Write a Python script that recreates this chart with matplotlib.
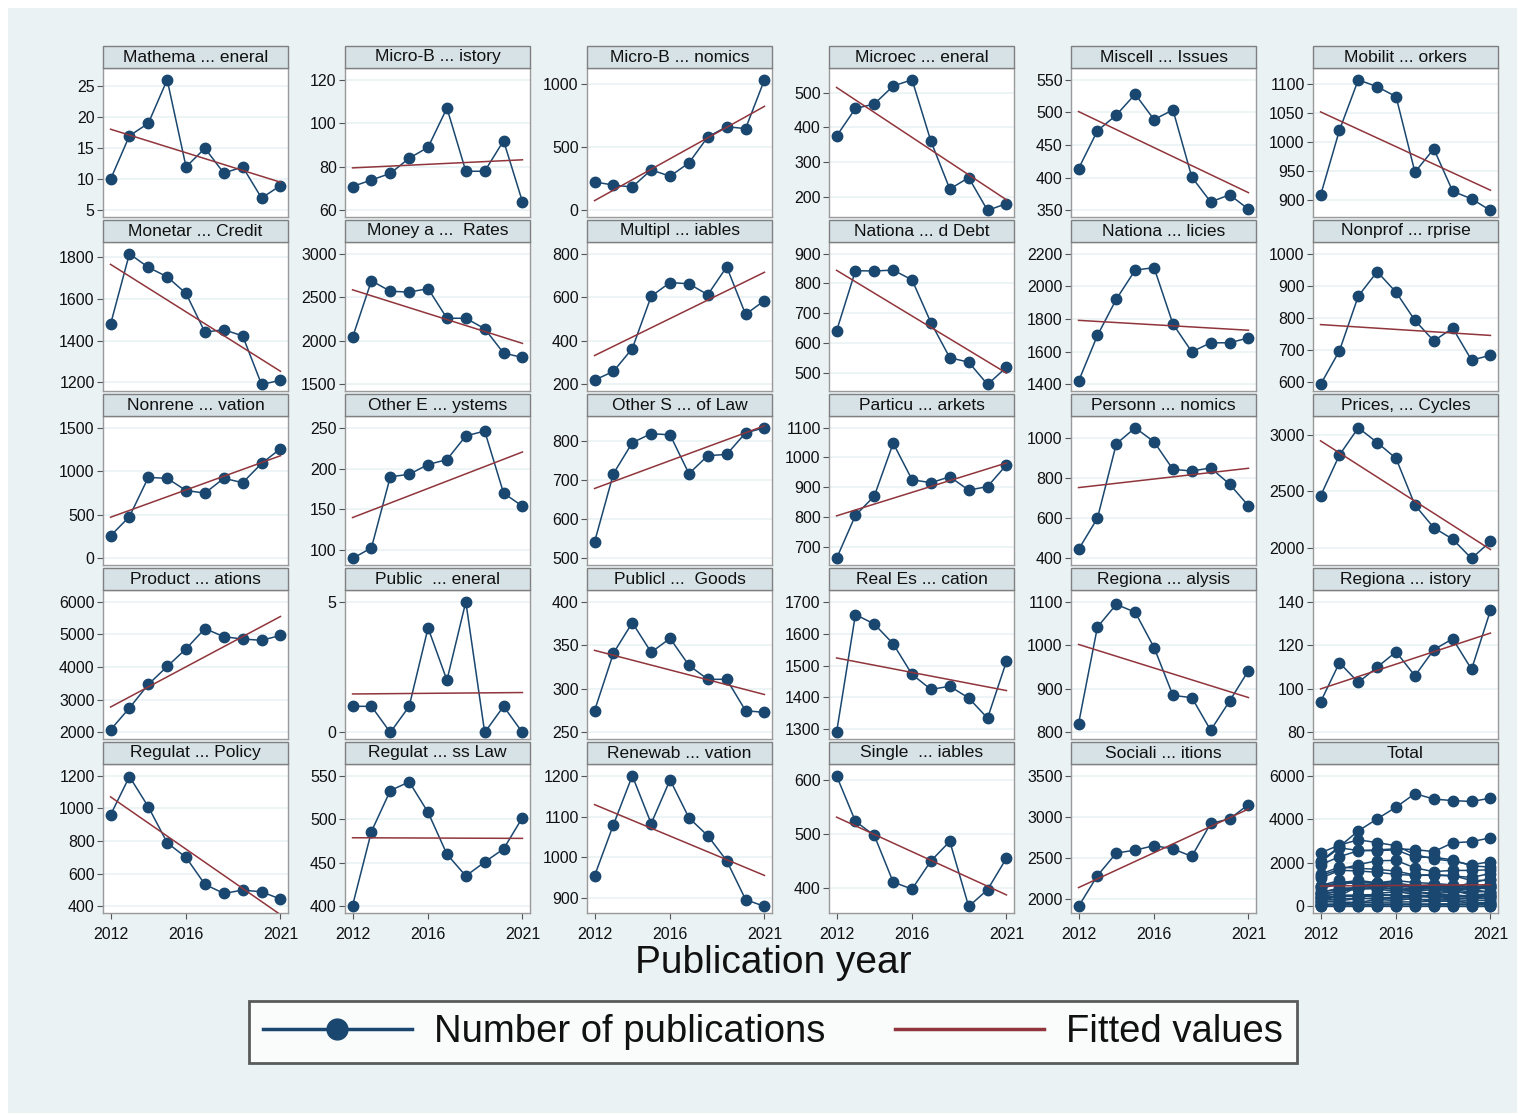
"""
Small multiples: publications per year by JEL-type category, with linear fits
"""
import numpy as np
import matplotlib.pyplot as plt
from matplotlib.patches import Rectangle
from matplotlib.lines import Line2D

plt.rcParams['font.family'] = ['Liberation Sans', 'DejaVu Sans']

years = list(range(2012, 2022))

titles = [
    "Mathema ... eneral", "Micro-B ... istory", "Micro-B ... nomics",
    "Microec ... eneral", "Miscell ... Issues", "Mobilit ... orkers",
    "Monetar ... Credit", "Money a ...  Rates", "Multipl ... iables",
    "Nationa ... d Debt", "Nationa ... licies", "Nonprof ... rprise",
    "Nonrene ... vation", "Other E ... ystems", "Other S ... of Law",
    "Particu ... arkets", "Personn ... nomics", "Prices, ... Cycles",
    "Product ... ations", "Public  ... eneral", "Publicl ...  Goods",
    "Real Es ... cation", "Regiona ... alysis", "Regiona ... istory",
    "Regulat ... Policy", "Regulat ... ss Law", "Renewab ... vation",
    "Single  ... iables", "Sociali ... itions",
]

counts = [
    [10, 17, 19, 26, 12, 15, 11, 12, 7, 9],
    [71, 74, 77, 84, 89, 107, 78, 78, 92, 64],
    [225, 200, 185, 320, 270, 375, 580, 660, 645, 1030],
    [375, 455, 468, 520, 538, 360, 222, 255, 160, 180],
    [414, 472, 496, 528, 489, 504, 401, 363, 374, 352],
    [908, 1020, 1107, 1095, 1078, 948, 988, 915, 902, 882],
    [1478, 1815, 1750, 1705, 1625, 1440, 1452, 1422, 1190, 1210],
    [2040, 2690, 2570, 2560, 2600, 2260, 2260, 2140, 1860, 1810],
    [220, 260, 365, 605, 668, 662, 612, 740, 522, 585],
    [640, 843, 842, 845, 812, 668, 550, 535, 460, 518],
    [1420, 1700, 1922, 2100, 2115, 1770, 1600, 1655, 1655, 1685],
    [592, 697, 868, 944, 880, 792, 728, 768, 668, 683],
    [260, 480, 930, 920, 780, 750, 920, 870, 1090, 1260],
    [90, 103, 190, 193, 205, 211, 240, 246, 170, 154],
    [542, 716, 795, 818, 815, 716, 762, 765, 820, 833],
    [660, 805, 870, 1048, 925, 915, 935, 890, 902, 975],
    [445, 600, 970, 1050, 980, 843, 835, 850, 770, 662],
    [2460, 2820, 3060, 2930, 2790, 2380, 2180, 2080, 1910, 2060],
    [2080, 2750, 3470, 4020, 4560, 5180, 4930, 4860, 4820, 4970],
    [1, 1, 0, 1, 4, 2, 5, 0, 1, 0],
    [275, 341, 376, 342, 358, 327, 311, 311, 275, 273],
    [1290, 1660, 1630, 1568, 1472, 1425, 1435, 1398, 1335, 1513],
    [820, 1042, 1094, 1076, 995, 885, 880, 805, 872, 942],
    [94, 112, 103, 110, 117, 106, 118, 123, 109, 136],
    [960, 1195, 1010, 790, 700, 535, 480, 500, 490, 445],
    [401, 486, 533, 543, 508, 460, 435, 451, 466, 502],
    [955, 1080, 1200, 1083, 1190, 1097, 1053, 992, 897, 880],
    [607, 523, 497, 411, 398, 450, 486, 366, 397, 455],
    [1910, 2285, 2560, 2595, 2650, 2610, 2520, 2920, 2975, 3150],
]

yticks = [
    [5, 10, 15, 20, 25], [60, 80, 100, 120], [0, 500, 1000],
    [200, 300, 400, 500], [350, 400, 450, 500, 550], [900, 950, 1000, 1050, 1100],
    [1200, 1400, 1600, 1800], [1500, 2000, 2500, 3000], [200, 400, 600, 800],
    [500, 600, 700, 800, 900], [1400, 1600, 1800, 2000, 2200], [600, 700, 800, 900, 1000],
    [0, 500, 1000, 1500], [100, 150, 200, 250], [500, 600, 700, 800],
    [700, 800, 900, 1000, 1100], [400, 600, 800, 1000], [2000, 2500, 3000],
    [2000, 3000, 4000, 5000, 6000], [0, 5], [250, 300, 350, 400],
    [1300, 1400, 1500, 1600, 1700], [800, 900, 1000, 1100], [80, 100, 120, 140],
    [400, 600, 800, 1000, 1200], [400, 450, 500, 550], [900, 1000, 1100, 1200],
    [400, 500, 600], [2000, 2500, 3000, 3500],
]
total_ticks = [0, 2000, 4000, 6000]
xticks = [2012, 2016, 2021]

navy = '#1a476f'
maroon = '#90353b'
bg = '#eaf2f3'

W, H = 1519, 1115
fig = plt.figure(figsize=(W / 100, H / 100), dpi=100)
fig.patch.set_facecolor('white')
fig.patches.append(Rectangle((8 / W, 2 / H), 1509 / W, 1105 / H, transform=fig.transFigure,
                             facecolor=bg, edgecolor='none', zorder=-10))

panel_w, panel_h, strip_h = 185, 149, 22


def fit_line(x, y):
    b, a = np.polyfit(x, y, 1)
    return a + b * np.array(years, dtype=float)


for i in range(30):
    r, c = divmod(i, 6)
    left = 103 + 242 * c
    top = 68 + 174 * r
    ax = fig.add_axes([left / W, 1 - (top + panel_h) / H, panel_w / W, panel_h / H])
    ax.set_facecolor('white')

    if i < 29:
        y = counts[i]
        ax.plot(years, y, color=navy, lw=1.1, marker='o', ms=7.5, zorder=3)
        ax.plot(years, fit_line(years, y), color=maroon, lw=1.1, zorder=4)
        ticks = yticks[i]
        title = titles[i]
        vals = y
    else:
        for y in counts:
            ax.plot(years, y, color=navy, lw=1.1, marker='o', ms=7.5, zorder=3)
        xs = np.tile(years, len(counts))
        ys = np.concatenate(counts)
        ax.plot(years, fit_line(xs, ys), color=maroon, lw=1.1, zorder=4)
        ticks = total_ticks
        title = "Total"
        vals = ys

    lo = min(min(vals), ticks[0])
    hi = max(max(vals), ticks[-1])
    span = hi - lo
    ax.set_ylim(lo - 0.05 * span, hi + 0.09 * span)
    ax.set_xlim(2011.6, 2021.4)
    ax.set_yticks(ticks)
    ax.set_yticklabels([str(t) for t in ticks], fontsize=11.5, color='#111111')
    for t in ticks:
        ax.axhline(t, color=bg, lw=1.2, zorder=1)
    ax.tick_params(axis='y', length=4, width=0.8, color='#555555', pad=2)

    if r == 4:
        ax.set_xticks(xticks)
        ax.set_xticklabels([str(t) for t in xticks], fontsize=11.5, color='#111111')
        ax.tick_params(axis='x', length=4, width=0.8, color='#555555', pad=6)
    else:
        ax.set_xticks([])

    for s in ax.spines.values():
        s.set_color('#9a9a9a')
        s.set_linewidth(1.0)

    # strip with panel title
    sh = strip_h / panel_h
    ax.add_patch(Rectangle((0, 1), 1, sh, transform=ax.transAxes, clip_on=False,
                           facecolor='#d6e2e6', edgecolor='#808080', lw=1.0, zorder=5))
    ax.text(0.5, 1 + sh / 2, title, transform=ax.transAxes, ha='center', va='center',
            fontsize=12.5, color='#111111', zorder=6)

fig.text(773 / W, 1 - 963 / H, "Publication year", ha='center', va='center', fontsize=28,
         color='#111111')

handles = [
    Line2D([], [], color=navy, lw=2.5, marker='o', ms=15),
    Line2D([], [], color=maroon, lw=2.5),
]
leg = fig.legend(handles, ["Number of publications", "Fitted values"], loc='center',
                 bbox_to_anchor=(773 / W, 1 - 1032 / H), ncol=2, fontsize=27.5,
                 frameon=True, fancybox=False, edgecolor='#333333', handlelength=3.9,
                 handletextpad=0.6, columnspacing=1.8, borderpad=0.35, borderaxespad=0)
leg.get_frame().set_linewidth(2.0)
leg.get_frame().set_facecolor('white')
for t in leg.get_texts():
    t.set_color('#111111')

fig.savefig('out.png', dpi=100, facecolor=fig.get_facecolor())
